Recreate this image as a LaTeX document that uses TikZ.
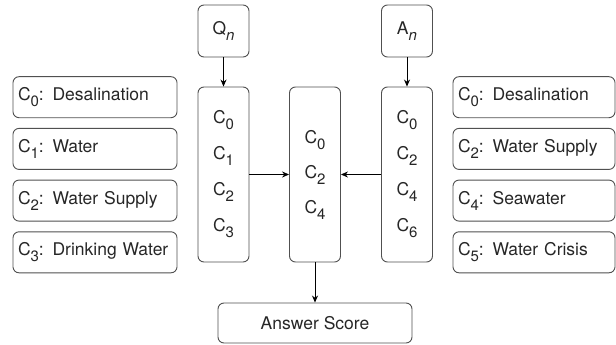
\documentclass[tikz,border=0pt]{standalone}
\usepackage{fontspec}
\setmainfont{TeX Gyre Heros}
\usetikzlibrary{arrows.meta}
\newcommand{\csub}[1]{\raisebox{-6pt}{\fontsize{15}{15}\selectfont #1}}
\definecolor{txtgray}{HTML}{262626}
\definecolor{boxgray}{HTML}{505050}

\begin{document}
\begin{tikzpicture}[x=1pt,y=-1pt,
  box/.style={draw=boxgray,line width=0.9pt,rounded corners=6pt,text=txtgray},
  lbl/.style={box,minimum height=41,text width=154,inner xsep=5,align=left,font=\fontsize{17.5}{20}\selectfont},
  col/.style={box,minimum width=51,minimum height=175,align=center,font=\fontsize{17.5}{36}\selectfont},
  arr/.style={-{Stealth[length=7pt,width=6pt]},line width=0.8pt}]
\useasboundingbox (0,0) rectangle (616,345);
% concept lists
\foreach \i/\t [count=\k] in {0/Desalination,1/Water,2/Water Supply,3/Drinking Water} {
\node[lbl] (l\k) at (95,45.5+51.7*\k) {C\csub{\i}: \t};
}
\foreach \i/\t [count=\k] in {0/Desalination,2/Water Supply,4/Seawater,5/Water Crisis} {
\node[lbl,text width=152] (r\k) at (534,45.5+51.7*\k) {C\csub{\i}: \t};
}
% inputs
\node[box,minimum width=51,minimum height=52,font=\fontsize{17.5}{20}\selectfont] (qn) at (223.5,31) {Q\csub{\textit{n}}};
\node[box,minimum width=51,minimum height=52,font=\fontsize{17.5}{20}\selectfont] (an) at (407,31) {A\csub{\textit{n}}};
% columns
\node[col] (qc) at (223.5,174.5) {C\csub{0}\\C\csub{1}\\C\csub{2}\\C\csub{3}};
\node[col] (mc) at (315,174.5) {C\csub{0}\\[-1pt]C\csub{2}\\[-1pt]C\csub{4}};
\node[col] (ac) at (407,174.5) {C\csub{0}\\C\csub{2}\\C\csub{4}\\C\csub{6}};
\node[box,minimum width=194,minimum height=40,font=\fontsize{17.5}{20}\selectfont] (score) at (315,323) {Answer Score};

\draw[arr] (qn) -- (qc);
\draw[arr] (an) -- (ac);
\draw[arr] (qc.east) -- (mc.west);
\draw[arr] (ac.west) -- (mc.east);
\draw[arr] (mc) -- (score);
\end{tikzpicture}
\end{document}
